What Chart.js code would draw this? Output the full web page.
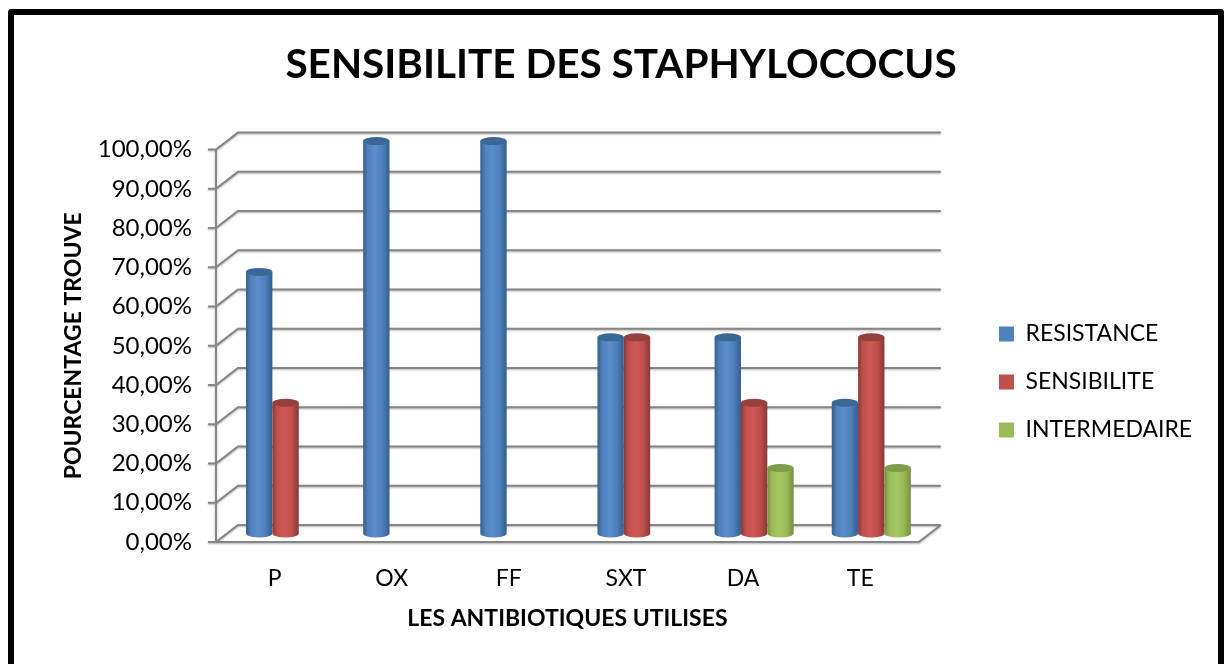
<!DOCTYPE html>
<html>
<head>
<meta charset="utf-8">
<script src="https://cdn.jsdelivr.net/npm/chart.js@4"></script>
<style>
  html, body { margin: 0; padding: 0; background: #fff; overflow: hidden; }
  #frame { position: absolute; left: 8px; top: 9px; width: 1204px; height: 670px; border: 6px solid #000; border-radius: 3px; }
  canvas { position: absolute; left: 0; top: 0; }
</style>
</head>
<body>
<canvas id="staphChart" width="1228" height="664"></canvas>
<div id="frame"></div>
<script>
const categories = ["P", "OX", "FF", "SXT", "DA", "TE"];
const resistance = [66.67, 100, 100, 50, 50, 33.33];
const sensibilite = [33.33, 0, 0, 50, 33.33, 50];
const intermediaire = [0, 0, 0, 0, 16.67, 16.67];
const yTickLabels = ["0,00%", "10,00%", "20,00%", "30,00%", "40,00%", "50,00%", "60,00%", "70,00%", "80,00%", "90,00%", "100,00%"];

const FONT = "Lato, Carlito, Calibri, sans-serif";
const DEPTH_X = 22, DEPTH_Y = 17;
const shades = [
  { dark: "#345e8e", mid: "#4f81bd", light: "#5b8dcb", top: "#3b6796" },
  { dark: "#8a3836", mid: "#c0504d", light: "#cf5856", top: "#93403e" },
  { dark: "#76903f", mid: "#9bbb59", light: "#a6c860", top: "#7f9c49" }
];

// walls, gridlines and ticks of the fake 3d box
const box3d = {
  id: "box3d",
  beforeDatasetsDraw(chart) {
    const { ctx, chartArea: a, scales: { y } } = chart;
    ctx.save();
    ctx.strokeStyle = "#868686";
    ctx.lineWidth = 2;
    ctx.shadowColor = "rgba(0,0,0,0.3)";
    ctx.shadowBlur = 2;
    ctx.shadowOffsetY = 1;
    ctx.beginPath();
    y.ticks.forEach((t) => {
      const py = y.getPixelForValue(t.value);
      ctx.moveTo(a.left - 8, py);
      ctx.lineTo(a.left, py);
      ctx.lineTo(a.left + DEPTH_X, py - DEPTH_Y);
      ctx.lineTo(a.right + DEPTH_X, py - DEPTH_Y);
    });
    ctx.moveTo(a.left, a.top);
    ctx.lineTo(a.left, a.bottom);
    ctx.lineTo(a.right, a.bottom);
    ctx.lineTo(a.right + DEPTH_X, a.bottom - DEPTH_Y);
    ctx.stroke();
    ctx.restore();
  }
};

// bars come from the library's elements, only the painting is cylindrical
const cylinders = {
  id: "cylinders",
  beforeDatasetDraw() {
    return false;
  },
  afterDatasetsDraw(chart) {
    const ctx = chart.ctx;
    const ry = 4;
    chart.data.datasets.forEach((ds, i) => {
      const c = shades[i];
      chart.getDatasetMeta(i).data.forEach((bar, j) => {
        if (!ds.data[j]) return;
        const cx = bar.x + DEPTH_X / 2;
        const rx = bar.width / 2;
        const top = bar.y - DEPTH_Y / 2;
        const bottom = bar.base - DEPTH_Y / 2;
        const g = ctx.createLinearGradient(cx - rx, 0, cx + rx, 0);
        g.addColorStop(0, c.dark);
        g.addColorStop(0.18, c.mid);
        g.addColorStop(0.45, c.light);
        g.addColorStop(0.72, c.mid);
        g.addColorStop(1, c.dark);
        ctx.save();
        ctx.fillStyle = g;
        ctx.beginPath();
        ctx.moveTo(cx - rx, top);
        ctx.lineTo(cx - rx, bottom);
        ctx.ellipse(cx, bottom, rx, ry, 0, Math.PI, 0, true);
        ctx.lineTo(cx + rx, top);
        ctx.closePath();
        ctx.fill();
        ctx.fillStyle = c.top;
        ctx.beginPath();
        ctx.ellipse(cx, top, rx, ry, 0, 0, Math.PI * 2);
        ctx.fill();
        ctx.restore();
      });
    });
  }
};

// legend and title sit away from where the layout puts them
const placeBoxes = {
  id: "placeBoxes",
  afterLayout(chart) {
    const lg = chart.legend;
    const h = lg.bottom - lg.top;
    lg.left = 999 - lg.options.labels.padding;
    lg.right = lg.left + lg.width;
    lg.top = 382 - h / 2;
    lg.bottom = lg.top + h;
    chart.titleBlock.left = 0;
    chart.titleBlock.right = 1242;
  }
};

new Chart(document.getElementById("staphChart"), {
  type: "bar",
  data: {
    labels: categories,
    datasets: [
      { label: "RESISTANCE", data: resistance, backgroundColor: "#4f81bd" },
      { label: "SENSIBILITE", data: sensibilite, backgroundColor: "#c0504d" },
      { label: "INTERMEDAIRE", data: intermediaire, backgroundColor: "#9bbb59" }
    ]
  },
  plugins: [box3d, cylinders, placeBoxes],
  options: {
    responsive: false,
    animation: false,
    categoryPercentage: 0.675,
    barPercentage: 1,
    layout: { padding: { left: 60, right: 81, top: 22, bottom: 32 } },
    plugins: {
      tooltip: { enabled: false },
      title: {
        display: true,
        text: "SENSIBILITE DES STAPHYLOCOCUS",
        color: "#000",
        font: { family: FONT, size: 40.5, weight: "bold" },
        padding: { top: 19, bottom: 60 }
      },
      legend: {
        position: "right",
        labels: {
          color: "#000",
          font: { family: FONT, size: 23 },
          boxWidth: 15,
          boxHeight: 15,
          padding: 25
        }
      }
    },
    scales: {
      x: {
        grid: { display: false },
        border: { display: false },
        ticks: { color: "#000", font: { family: FONT, size: 23 }, padding: 15 },
        title: {
          display: true,
          text: "LES ANTIBIOTIQUES UTILISES",
          color: "#000",
          font: { family: FONT, size: 23, weight: "bold" },
          padding: { top: 0, bottom: 0 }
        },
        afterFit(scale) { scale.height = 90; }
      },
      y: {
        min: 0,
        max: 100,
        grid: { display: false },
        border: { display: false },
        ticks: {
          stepSize: 10,
          color: "#000",
          font: { family: FONT, size: 24 },
          padding: 16,
          callback: (v, i) => yTickLabels[i]
        },
        title: {
          display: true,
          text: "POURCENTAGE TROUVE",
          color: "#000",
          font: { family: FONT, size: 23, weight: "bold" },
          padding: { top: 0, bottom: 0 }
        },
        afterFit(scale) { scale.width = 156; }
      }
    }
  }
});
</script>
</body>
</html>
